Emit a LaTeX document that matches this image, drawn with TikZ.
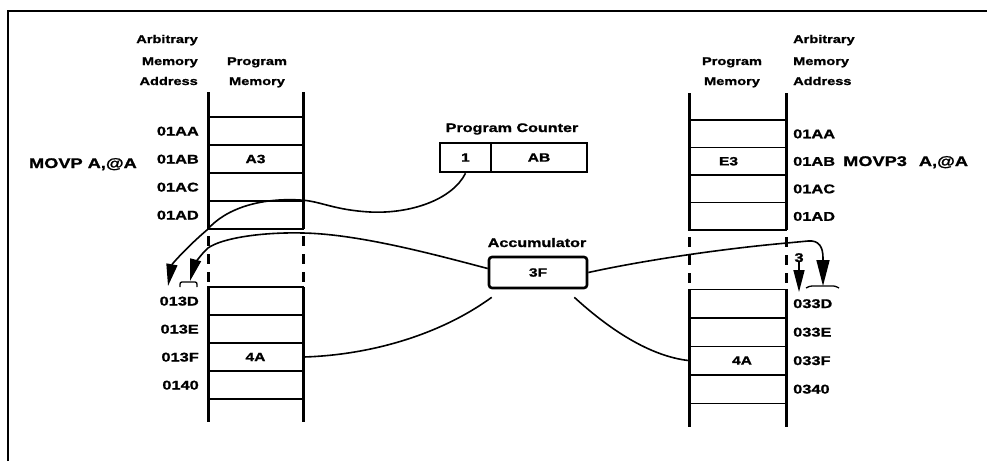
\documentclass[tikz,border=0pt]{standalone}
\usepackage{fontspec}
\setmainfont{Liberation Sans}[FakeStretch=1.3, BoldFeatures={FakeBold=1.2}]
\usetikzlibrary{arrows.meta}

\begin{document}
\begin{tikzpicture}[x=1pt,y=-1pt,
  lab/.style={font=\bfseries\fontsize{12.6}{14}\selectfont, inner sep=0pt},
  head/.style={font=\bfseries\fontsize{11.2}{13}\selectfont, inner sep=0pt},
  ttl/.style={font=\bfseries\fontsize{12.4}{14}\selectfont, inner sep=0pt},
  instr/.style={font=\bfseries\fontsize{14}{16}\selectfont, inner sep=0pt},
  lcell/.style={draw, line width=1.5pt, minimum width=95pt, minimum height=28pt,
                inner sep=0pt, font=\bfseries\fontsize{12}{14}\selectfont},
  rcell/.style={lcell, minimum width=97pt},
  rail/.style={line width=3pt},
  railgap/.style={line width=3pt, dash pattern=on 10pt off 8pt},
  reg/.style={draw, line width=2.6pt, inner sep=0pt, minimum height=29pt,
              font=\bfseries\fontsize{12}{14}\selectfont},
  conn/.style={line width=1.6pt},
  tip/.style={-{Triangle[length=22pt 0 0,width=11pt 0 0]}},
  bigtip/.style={-{Triangle[length=26pt 0 0,width=13pt 0 0]}},
  hook/.style={line width=1.3pt}
]
\useasboundingbox (0,0) rectangle (987,461);

% frame (top and left edges only)
\draw[line width=1.6pt] (8,461) -- (8,11) -- (987,11);

% ---------- left program memory ----------
\node[head, anchor=base east] (la1) at (198,43) {Arbitrary};
\node[head, anchor=base east] (la2) at (198,65) {Memory};
\node[head, anchor=base east] (la3) at (198,85) {Address};
\node[head, anchor=base] (lp1) at (257,65) {Program};
\node[head, anchor=base] (lp2) at (257,85) {Memory};

\node[lcell] (lu1) at (255.5,131) {};
\node[lcell] (lu2) at (255.5,159) {A3};
\node[lcell] (lu3) at (255.5,187) {};
\node[lcell] (lu4) at (255.5,215) {};
\node[lcell] (ll1) at (255.5,301) {};
\node[lcell] (ll2) at (255.5,329) {};
\node[lcell] (ll3) at (255.5,357) {4A};
\node[lcell] (ll4) at (255.5,385) {};

\foreach \x in {208,303} {
  \draw[rail] (\x,92) -- (\x,229);
  \draw[railgap] (\x,236) -- (\x,282);
  \draw[rail] (\x,287) -- (\x,422);
}

\node[lab, anchor=base east] (lau1) at (199,135.5) {01AA};
\node[lab, anchor=base east] (lau2) at (199,163.5) {01AB};
\node[lab, anchor=base east] (lau3) at (199,191.5) {01AC};
\node[lab, anchor=base east] (lau4) at (199,219.5) {01AD};
\node[lab, anchor=base east] (lal1) at (199,305.5) {013D};
\node[lab, anchor=base east] (lal2) at (199,333.5) {013E};
\node[lab, anchor=base east] (lal3) at (199,361.5) {013F};
\node[lab, anchor=base east] (lal4) at (199,389.5) {0140};
\node[instr, anchor=base east] (linstr) at (137,168) {MOVP A,@A};

% ---------- right program memory ----------
\node[head, anchor=base] (rp1) at (732,65) {Program};
\node[head, anchor=base] (rp2) at (732,85) {Memory};
\node[head, anchor=base west] (ra1) at (793,43) {Arbitrary};
\node[head, anchor=base west] (ra2) at (793,65) {Memory};
\node[head, anchor=base west] (ra3) at (793,85) {Address};

\node[rcell, minimum height=27.5pt] (ru1) at (737.5,133.75) {};
\node[rcell, minimum height=27.5pt] (ru2) at (737.5,161.25) {E3\hspace*{18pt}};
\node[rcell, minimum height=27.5pt] (ru3) at (737.5,188.75) {};
\node[rcell, minimum height=27.5pt] (ru4) at (737.5,216.25) {};
\node[rcell, minimum height=28.5pt] (rl1) at (737.5,303.5) {};
\node[rcell, minimum height=28.5pt] (rl2) at (737.5,332) {};
\node[rcell, minimum height=28.5pt] (rl3) at (737.5,360.5) {\hspace*{9pt}4A};
\node[rcell, minimum height=28.5pt] (rl4) at (737.5,389) {};

\foreach \x in {689,786} {
  \draw[rail] (\x,93) -- (\x,230);
  \draw[railgap] (\x,237) -- (\x,283);
  \draw[rail] (\x,289) -- (\x,427);
}

\node[lab, anchor=base west] (rau1) at (793,138.25) {01AA};
\node[lab, anchor=base west] (rau2) at (793,165.75) {01AB};
\node[lab, anchor=base west] (rau3) at (793,193.25) {01AC};
\node[lab, anchor=base west] (rau4) at (793,220.75) {01AD};
\node[lab, anchor=base west] (ral1) at (793,308) {033D};
\node[lab, anchor=base west] (ral2) at (793,336.5) {033E};
\node[lab, anchor=base west] (ral3) at (793,365) {033F};
\node[lab, anchor=base west] (ral4) at (793,393.5) {0340};
\node[instr, anchor=base west] (rinstr) at (843,166) {MOVP3\hspace{12pt}A,@A};

% ---------- registers ----------
\node[ttl, anchor=base] (pct) at (512,132) {Program Counter};
\node[reg, minimum width=51pt] (pcpage) at (465.5,157.5) {1};
\node[reg, minimum width=96pt] (pcoff) at (539,157.5) {AB};

\node[ttl, anchor=base] (acct) at (537,247) {Accumulator};
\node[reg, minimum width=98pt, minimum height=31pt, rounded corners=3pt] (acc) at (538,272.5) {3F};

% ---------- connectors ----------
\coordinate (t1) at (168,286);
\coordinate (t2) at (190,281);
\coordinate (t3) at (823,286);
\coordinate (t4) at (799,292);

% page bit of the program counter
\draw[conn, tip] (pcpage.south) .. controls (452,200) and (410,214) .. (370,212)
  .. controls (335,210) and (322,202) .. (lu4.north east)
  .. controls (262,197) and (226,208) .. (lu4.south west)
  .. controls (188,246) and (172,264) .. (t1);

% accumulator to the left memory
\draw[conn, tip] ([yshift=4pt]acc.west) .. controls (440,256) and (360,234) .. (303,233)
  .. controls (262,232) and (222,238) .. (208,248)
  .. controls (200,255) and (194,266) .. (t2);
\draw[conn] ([shift={(4pt,-8pt)}]acc.south west) .. controls (440,335) and (370,355) .. (ll3.east);

% accumulator to the right memory
\draw[conn, bigtip] (acc.east) .. controls (650,259) and (730,248) .. (787,243)
  -- (808,241) .. controls (819,240) and (823,247) .. (823,258) -- (t3);
\draw[conn] ([shift={(-14pt,-8pt)}]acc.south east) .. controls (610,330) and (650,356) .. (rl3.west);

\node[lab, anchor=base] (three) at (799,262) {3};
\draw[conn, tip] (three.south) -- (t4);

% small marks under the arrow tips
\draw[hook] (806,288) .. controls (810,286) .. (815,286) -- (831,286) .. controls (835,286) .. (839,288);
\draw[hook] (180,287) .. controls (180,282) .. (184,282) -- (193,282) .. controls (197,282) .. (197,287);
\end{tikzpicture}
\end{document}
